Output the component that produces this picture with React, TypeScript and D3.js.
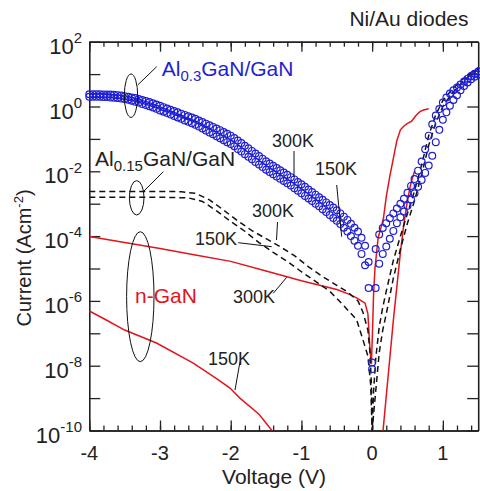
import React, { useEffect, useRef } from 'react';
import * as d3 from 'd3';

type Pt = [number, number];

const W = 480;
const H = 491;
const FONT = '"Liberation Sans", Arial, Helvetica, sans-serif';
const BLUE = '#1e1ed2';
const RED = '#e3141c';
const AXIS = '#222';

// Al0.3GaN/GaN circles: log10 J at V = -4.00, -3.95, ... 1.50 (0.05 V step)
const blueVoltages = d3.range(0, 111).map(i => -4 + i * 0.05);

const blue300K = [
  0.38, 0.38, 0.38, 0.38, 0.37, 0.37, 0.37, 0.36, 0.35, 0.34, 0.32,
  0.30, 0.28, 0.26, 0.23, 0.20, 0.17, 0.14, 0.10, 0.06, 0.02,
  -0.02, -0.06, -0.10, -0.14, -0.18, -0.22, -0.26, -0.30, -0.34, -0.38,
  -0.43, -0.48, -0.53, -0.58, -0.63, -0.68, -0.73, -0.79, -0.84, -0.90,
  -0.97, -1.05, -1.13, -1.21, -1.29, -1.37, -1.45, -1.53, -1.61, -1.69,
  -1.76, -1.83, -1.90, -1.97, -2.04, -2.11, -2.18, -2.25, -2.33, -2.40,
  -2.48, -2.56, -2.64, -2.72, -2.80, -2.88, -2.96, -3.04, -3.12, -3.20,
  -3.30, -3.40, -3.50, -3.62, -3.74, -3.86, -4.05, -4.30, -4.80, -7.90,
  -4.40, -3.95, -3.75, -3.60, -3.45, -3.30, -3.15, -3.00, -2.85, -2.66,
  -2.45, -2.24, -1.98, -1.70, -1.32, -0.90, -0.55, -0.28, -0.08, 0.12,
  0.28, 0.40, 0.50, 0.59, 0.68, 0.77, 0.86, 0.94, 1.01, 1.08,
];

const blue150K = [
  0.30, 0.30, 0.30, 0.30, 0.29, 0.29, 0.28, 0.27, 0.26, 0.25, 0.23,
  0.21, 0.18, 0.15, 0.12, 0.08, 0.05, 0.01, -0.03, -0.07, -0.12,
  -0.16, -0.20, -0.25, -0.29, -0.34, -0.38, -0.43, -0.47, -0.52, -0.56,
  -0.62, -0.68, -0.74, -0.80, -0.86, -0.92, -0.98, -1.04, -1.10, -1.16,
  -1.23, -1.31, -1.39, -1.47, -1.55, -1.63, -1.71, -1.79, -1.87, -1.95,
  -2.02, -2.09, -2.16, -2.23, -2.30, -2.37, -2.44, -2.52, -2.60, -2.68,
  -2.76, -2.84, -2.92, -3.00, -3.08, -3.17, -3.26, -3.35, -3.44, -3.53,
  -3.63, -3.74, -3.86, -4.00, -4.14, -4.30, -4.55, -4.90, -5.60, -8.10,
  -5.60, -4.85, -4.55, -4.32, -4.08, -3.84, -3.60, -3.42, -3.24, -3.06,
  -2.87, -2.68, -2.48, -2.27, -2.05, -1.82, -1.52, -1.10, -0.72, -0.41,
  -0.18, 0.02, 0.20, 0.35, 0.50, 0.63, 0.74, 0.84, 0.92, 0.99,
];

// Al0.15GaN/GaN dashed curves: [V, log10 J]
const dash300K: Pt[] = [
  [-4, -2.62], [-3.5, -2.62], [-3, -2.62], [-2.7, -2.63], [-2.5, -2.68], [-2.3, -2.88],
  [-2.1, -3.2], [-1.9, -3.53], [-1.7, -3.83], [-1.5, -4.08], [-1.3, -4.33], [-1.1, -4.6],
  [-0.9, -4.95], [-0.7, -5.25], [-0.5, -5.52], [-0.35, -5.72], [-0.2, -6.0], [-0.13, -6.35],
  [-0.06, -6.9], [-0.03, -7.6], [-0.01, -8.6], [0, -10],
  [0.02, -8.8], [0.05, -7.8], [0.1, -6.8], [0.15, -6.2], [0.2, -5.7], [0.3, -4.75],
  [0.4, -4.0], [0.5, -3.3], [0.6, -2.6], [0.7, -1.8], [0.8, -0.9], [0.9, -0.25],
  [1.0, 0.18], [1.1, 0.45], [1.2, 0.68], [1.3, 0.88], [1.4, 1.05], [1.5, 1.2],
];

const dash150K: Pt[] = [
  [-4, -2.8], [-3, -2.8], [-2.6, -2.82], [-2.4, -2.93], [-2.2, -3.22], [-2.0, -3.55],
  [-1.8, -3.85], [-1.6, -4.2], [-1.4, -4.5], [-1.2, -4.78], [-1.0, -5.1], [-0.8, -5.4],
  [-0.6, -5.7], [-0.4, -6.15], [-0.22, -6.58], [-0.13, -7.2], [-0.06, -7.7], [-0.02, -8.6],
  [0, -10],
  [0.05, -8.8], [0.1, -7.6], [0.15, -6.9], [0.2, -6.4], [0.3, -5.3], [0.4, -4.4],
  [0.5, -3.6], [0.6, -2.9], [0.7, -2.1], [0.8, -1.2], [0.9, -0.5], [1.0, 0.0],
  [1.1, 0.32], [1.2, 0.58], [1.3, 0.8], [1.4, 1.0], [1.5, 1.15],
];

// n-GaN red lines: [V, log10 J]
const red300K: Pt[] = [
  [-4, -4.01], [-3.5, -4.2], [-3, -4.38], [-2.5, -4.58], [-2, -4.78], [-1.5, -5.08],
  [-1.0, -5.38], [-0.5, -5.65], [-0.32, -5.8], [-0.2, -5.93], [-0.1, -6.07],
  [-0.06, -6.4], [-0.03, -7.5], [-0.01, -7.95],
  [0.01, -6.6], [0.02, -5.8], [0.04, -5.0], [0.085, -4.05], [0.13, -3.7], [0.16, -3.45],
  [0.2, -2.78], [0.25, -2.16], [0.3, -1.6], [0.35, -1.05], [0.4, -0.72], [0.45, -0.6],
  [0.5, -0.52], [0.56, -0.45], [0.62, -0.28], [0.68, -0.15], [0.74, -0.1], [0.8, -0.07],
];

const red150KReverse: Pt[] = [
  [-4, -6.31], [-3.76, -6.59], [-3.5, -6.9], [-3.05, -7.3], [-2.53, -7.92], [-2.2, -8.4],
  [-2.01, -8.69], [-1.87, -9.0], [-1.6, -9.5], [-1.38, -10.1],
];

const red150KForward: Pt[] = [
  [0.15, -10.1], [0.3, -6.6], [0.4, -4.5], [0.45, -3.6], [0.5, -2.9], [0.55, -2.35], [0.6, -2.0],
];

const xMajor = [-4, -3, -2, -1, 0, 1];
const yExponents = d3.range(-10, 3);

function App() {
  const ref = useRef<SVGSVGElement | null>(null);

  useEffect(() => {
    const svg = d3.select(ref.current);
    svg.selectAll('*').remove();

    const x = d3.scaleLinear().domain([-4, 1.5]).range([89.3, 478.2]);
    const y = d3.scaleLog().domain([1e-10, 1e2]).range([430.5, 41.7]);
    const [x0, x1] = x.range();
    const [yb, yt] = y.range();

    svg.append('defs').append('clipPath').attr('id', 'plot-clip')
      .append('rect')
      .attr('x', x0).attr('y', yt)
      .attr('width', x1 - x0).attr('height', yb - yt);

    // axes, ticks pointing inwards
    const minor = d3.range(0, 28).map(i => -4 + i * 0.2);
    const decades = yExponents.map(e => Math.pow(10, e));

    const styleAxis = (g: any) => {
      g.select('.domain').attr('stroke', AXIS).attr('stroke-width', 1.6);
      g.selectAll('.tick line').attr('stroke', AXIS).attr('stroke-width', 1.3);
      g.selectAll('.tick text').remove();
    };

    svg.append('g').attr('transform', `translate(0, ${yb})`)
      .call(d3.axisBottom(x).tickValues(minor).tickSizeInner(-5).tickSizeOuter(0).tickFormat(() => ''))
      .call(styleAxis);
    svg.append('g').attr('transform', `translate(0, ${yb})`)
      .call(d3.axisBottom(x).tickValues(xMajor).tickSizeInner(-10).tickSizeOuter(0).tickFormat(() => ''))
      .call(styleAxis);
    svg.append('g').attr('transform', `translate(0, ${yt})`)
      .call(d3.axisTop(x).tickValues(minor).tickSizeInner(-5).tickSizeOuter(0).tickFormat(() => ''))
      .call(styleAxis);
    svg.append('g').attr('transform', `translate(0, ${yt})`)
      .call(d3.axisTop(x).tickValues(xMajor).tickSizeInner(-10).tickSizeOuter(0).tickFormat(() => ''))
      .call(styleAxis);
    svg.append('g').attr('transform', `translate(${x0}, 0)`)
      .call(d3.axisLeft(y).tickValues(decades).tickSizeInner(-11).tickSizeOuter(0).tickFormat(() => ''))
      .call(styleAxis);
    svg.append('g').attr('transform', `translate(${x1}, 0)`)
      .call(d3.axisRight(y).tickValues(decades).tickSizeInner(-11).tickSizeOuter(0).tickFormat(() => ''))
      .call(styleAxis);

    // tick labels
    svg.append('g').selectAll('text').data(xMajor).join('text')
      .attr('x', d => x(d)).attr('y', yb + 29)
      .attr('text-anchor', 'middle')
      .attr('font-size', 20)
      .attr('fill', AXIS)
      .text(d => String(d));

    const yLabels = svg.append('g').selectAll('text')
      .data(yExponents.filter(e => e % 2 === 0)).join('text')
      .attr('x', 82).attr('y', d => y(Math.pow(10, d)) + 12)
      .attr('text-anchor', 'end')
      .attr('fill', AXIS);
    yLabels.append('tspan').attr('font-size', 22).text('10');
    yLabels.append('tspan').attr('font-size', 15).attr('dy', -10.7).text(d => String(d));

    // axis titles
    svg.append('text')
      .attr('x', 274).attr('y', 484)
      .attr('text-anchor', 'middle').attr('font-size', 21).attr('fill', AXIS)
      .text('Voltage (V)');

    const yTitle = svg.append('text')
      .attr('transform', 'translate(31, 258) rotate(-90)')
      .attr('text-anchor', 'middle').attr('font-size', 20).attr('fill', AXIS);
    yTitle.append('tspan').text('Current (Acm');
    yTitle.append('tspan').attr('font-size', 13).attr('dy', -8).text('-2');
    yTitle.append('tspan').attr('dy', 8).text(')');

    svg.append('text')
      .attr('x', 468.5).attr('y', 26)
      .attr('text-anchor', 'end').attr('font-size', 21).attr('fill', AXIS)
      .text('Ni/Au diodes');

    // curves
    const line = d3.line<Pt>().x(d => x(d[0])).y(d => y(Math.pow(10, d[1])));
    const plot = svg.append('g').attr('clip-path', 'url(#plot-clip)');

    [red300K, red150KReverse, red150KForward].forEach(data => {
      plot.append('path')
        .attr('d', line(data))
        .attr('fill', 'none')
        .attr('stroke', RED)
        .attr('stroke-width', 1.5);
    });

    [dash300K, dash150K].forEach(data => {
      plot.append('path')
        .attr('d', line(data))
        .attr('fill', 'none')
        .attr('stroke', '#111')
        .attr('stroke-width', 1.5)
        .attr('stroke-dasharray', '6,4');
    });

    [blue300K, blue150K].forEach(series => {
      svg.append('g').selectAll('circle')
        .data(series.map((v, i) => [blueVoltages[i], v] as Pt))
        .join('circle')
        .attr('cx', d => x(d[0]))
        .attr('cy', d => y(Math.pow(10, d[1])))
        .attr('r', 3.4)
        .attr('fill', 'none')
        .attr('stroke', BLUE)
        .attr('stroke-width', 1.2);
    });

    // annotations
    const ann = svg.append('g').attr('fill', 'none').attr('stroke', '#111').attr('stroke-width', 1);
    ann.append('ellipse').attr('cx', 131).attr('cy', 95.7).attr('rx', 6.7).attr('ry', 21.7);
    ann.append('line').attr('x1', 137.7).attr('y1', 85).attr('x2', 156.7).attr('y2', 66.7);
    ann.append('ellipse').attr('cx', 136.7).attr('cy', 197.8).attr('rx', 7.3).attr('ry', 17.2);
    ann.append('line').attr('x1', 143.3).attr('y1', 191.7).attr('x2', 163.3).attr('y2', 171.7);
    ann.append('ellipse').attr('cx', 140.3).attr('cy', 296.7).attr('rx', 13.7).attr('ry', 65);
    ann.append('line').attr('x1', 294).attr('y1', 151).attr('x2', 294).attr('y2', 177);
    ann.append('line').attr('x1', 336.7).attr('y1', 185).attr('x2', 341.7).attr('y2', 236.7);
    ann.append('line').attr('x1', 277.5).attr('y1', 222).attr('x2', 276.5).attr('y2', 240);
    ann.append('line').attr('x1', 238.3).attr('y1', 242.7).attr('x2', 271.7).attr('y2', 246.7);
    ann.append('line').attr('x1', 273.3).attr('y1', 293.3).attr('x2', 286.7).attr('y2', 277.3);
    ann.append('line').attr('x1', 240).attr('y1', 361.7).attr('x2', 235).attr('y2', 390);

    const al3 = svg.append('text').attr('x', 161.7).attr('y', 76).attr('font-size', 21).attr('fill', BLUE);
    al3.append('tspan').text('Al');
    al3.append('tspan').attr('font-size', 15).attr('dy', 5).text('0.3');
    al3.append('tspan').attr('dy', -5).text('GaN/GaN');

    const al15 = svg.append('text').attr('x', 95).attr('y', 166).attr('font-size', 21).attr('fill', AXIS);
    al15.append('tspan').text('Al');
    al15.append('tspan').attr('font-size', 15).attr('dy', 5).text('0.15');
    al15.append('tspan').attr('dy', -5).text('GaN/GaN');

    svg.append('text').attr('x', 135).attr('y', 303).attr('font-size', 21).attr('fill', RED).text('n-GaN');

    const temps: [string, number, number][] = [
      ['300K', 272, 147],
      ['150K', 315, 175],
      ['300K', 252, 217],
      ['150K', 195, 245],
      ['300K', 233, 303],
      ['150K', 208, 365],
    ];
    svg.append('g').selectAll('text').data(temps).join('text')
      .attr('x', d => d[1]).attr('y', d => d[2])
      .attr('font-size', 18).attr('fill', AXIS)
      .text(d => d[0]);
  }, []);

  return (
    <svg
      ref={ref}
      width={W}
      height={H}
      style={{ position: 'absolute', left: 0, top: 0, fontFamily: FONT, background: '#fff' }}
    />
  );
}

export default App;
